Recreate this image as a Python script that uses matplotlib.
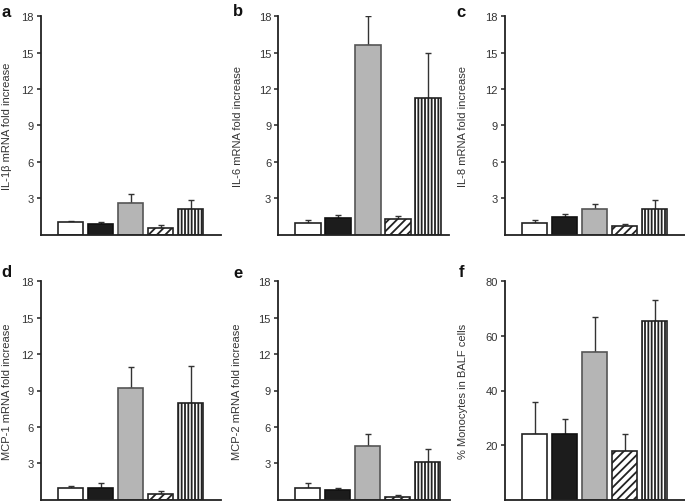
import matplotlib
matplotlib.use("Agg")
import matplotlib.pyplot as plt
import numpy as np

plt.rcParams['font.family'] = ['Liberation Sans', 'DejaVu Sans']
plt.rcParams['hatch.linewidth'] = 1.3

groups = ["g1", "g2", "g3", "g4", "g5"]

il1b_mean = [1.0, 0.9, 2.6, 0.55, 2.1]
il1b_sem = [0.15, 0.15, 0.75, 0.2, 0.75]
il6_mean = [0.95, 1.4, 15.65, 1.27, 11.25]
il6_sem = [0.25, 0.2, 2.35, 0.28, 3.75]
il8_mean = [0.95, 1.43, 2.12, 0.69, 2.12]
il8_sem = [0.25, 0.27, 0.41, 0.19, 0.74]
mcp1_mean = [0.97, 0.98, 9.2, 0.46, 7.94]
mcp1_sem = [0.15, 0.39, 1.73, 0.23, 3.05]
mcp2_mean = [0.93, 0.78, 4.42, 0.25, 3.14]
mcp2_sem = [0.42, 0.17, 1.02, 0.17, 1.05]
mono_mean = [24.0, 24.0, 54.0, 17.8, 65.6]
mono_sem = [11.9, 5.5, 13.0, 6.2, 7.7]

fold_ticks = [3, 6, 9, 12, 15, 18]
mono_ticks = [20, 40, 60, 80]

W, H = 685, 502
fig = plt.figure(figsize=(W / 100, H / 100), dpi=100)

faces = ['white', '#1c1c1c', '#b5b5b5', 'white', 'white']
edges = ['#222222', '#111111', '#555555', '#222222', '#222222']
hatches = [None, None, None, '////', '|||||']

panels = [
    ('a', 'IL-1β mRNA fold increase', il1b_mean, il1b_sem, 18, fold_ticks, 40.5, 17.3, 235.5, 5.0, (1, 17), 12.5),
    ('b', 'IL-6 mRNA fold increase', il6_mean, il6_sem, 18, fold_ticks, 278.2, 17.3, 235.5, 4.7, (233, 16), 243),
    ('c', 'IL-8 mRNA fold increase', il8_mean, il8_sem, 18, fold_ticks, 504.5, 17.3, 235.5, 5.0, (456, 17), 467.5),
    ('d', 'MCP-1 mRNA fold increase', mcp1_mean, mcp1_sem, 18, fold_ticks, 40.5, 282.3, 500.7, 5.0, (1, 277), 12.5),
    ('e', 'MCP-2 mRNA fold increase', mcp2_mean, mcp2_sem, 18, fold_ticks, 277.5, 282.3, 500.7, 4.75, (233, 278), 242.5),
    ('f', '% Monocytes in BALF cells', mono_mean, mono_sem, 80, mono_ticks, 504.7, 282.3, 500.7, 5.0, (459, 277), 468.5),
]

px_per_unit = 30.0
x = np.arange(len(groups))
for (letter, label, mean, sem, ymax, ticks, left, top, bottom, xmax, lxy, labx) in panels:
    width_px = (xmax + 1.0) * px_per_unit
    ax = fig.add_axes([left / W, 1 - bottom / H, width_px / W, (bottom - top) / H])
    ax.set_xlim(-1.0, xmax)
    ax.set_ylim(0, ymax)
    ax.errorbar(x, mean, yerr=[np.zeros(len(sem)), sem], fmt='none', ecolor='#333333',
                elinewidth=1.0, capsize=2.3, capthick=1.0, zorder=1)
    for i in range(len(groups)):
        ax.bar(x[i], mean[i], width=0.85, color=faces[i], edgecolor=edges[i],
               linewidth=1.2, hatch=hatches[i], zorder=2)
    for s in ['top', 'right']:
        ax.spines[s].set_visible(False)
    for s in ['left', 'bottom']:
        ax.spines[s].set_linewidth(1.3)
        ax.spines[s].set_color('#222222')
    ax.set_xticks([])
    ax.set_yticks(ticks)
    ax.tick_params(axis='y', direction='out', length=3, width=1.1, color='#222222',
                   labelsize=8, labelcolor='#333333', pad=2)
    ax.set_ylabel(label, fontsize=8, color='#333333')
    ax.yaxis.set_label_coords((labx - left) / width_px, 0.5)
    fig.text(lxy[0] / W, 1 - lxy[1] / H, letter, fontsize=12, fontweight='bold',
             ha='left', va='baseline', color='#111111')

fig.savefig('out.png', dpi=100)
